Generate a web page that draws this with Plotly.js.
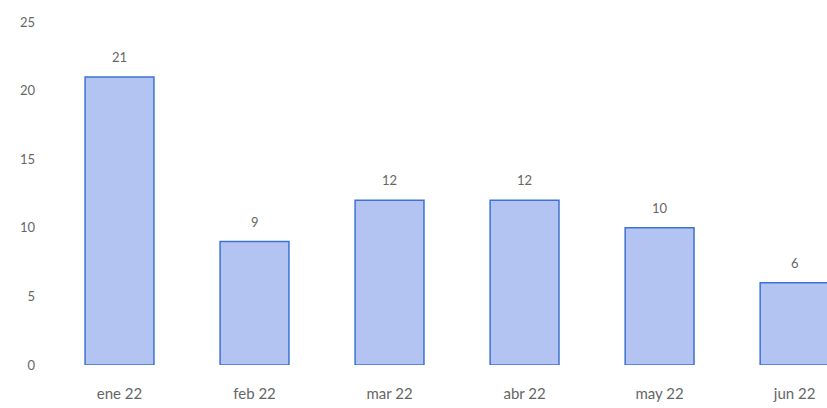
<!DOCTYPE html>
<html><head><meta charset="utf-8">
<script src="https://cdn.plot.ly/plotly-3.0.1.min.js"></script>
<style>html,body{margin:0;padding:0;background:#fff}#c{width:827px;height:408px}</style>
</head><body><div id="c"></div>
<script>
const categories = ["ene 22", "feb 22", "mar 22", "abr 22", "may 22", "jun 22"];
const values = [21, 9, 12, 12, 10, 6];
const yTicks = [0, 5, 10, 15, 20, 25];

const fontFam = "Lato, 'Open Sans', sans-serif";
const trace = {
  type: 'bar', x: categories, y: values,
  marker: { color: '#b4c4f2', line: { color: '#3d72d3', width: 1.5 } },
  hoverinfo: 'none'
};
const annotations = categories.map((c, i) => ({
  x: c, y: values[i], text: String(values[i]), showarrow: false,
  yanchor: 'bottom', yshift: 10, font: { family: fontFam, size: 13, color: '#666' }
}));
Plotly.newPlot('c', [trace], {
  width: 827, height: 408,
  margin: { l: 52, r: 0, t: 22, b: 43 },
  paper_bgcolor: '#fff', plot_bgcolor: '#fff',
  bargap: 0.49,
  showlegend: false,
  xaxis: { type: 'category', range: [-0.5, 5.24], showgrid: false, zeroline: false, showline: false,
           ticks: '', ticklabelstandoff: 18, tickfont: { family: fontFam, size: 15, color: '#666' } },
  yaxis: { range: [0, 25], tickvals: yTicks, showgrid: false, zeroline: false, showline: false,
           ticks: '', ticklabelstandoff: 16, tickfont: { family: fontFam, size: 13, color: '#666' } },
  annotations: annotations
}, { displayModeBar: false, staticPlot: true });
</script></body></html>
